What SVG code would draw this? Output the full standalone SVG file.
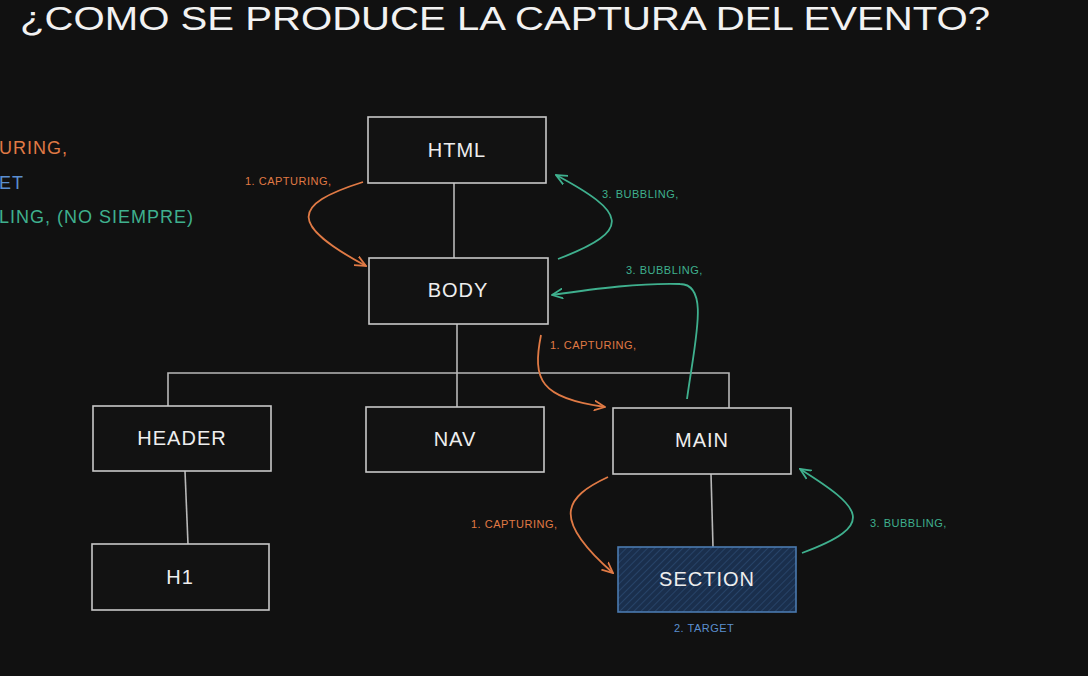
<svg xmlns="http://www.w3.org/2000/svg" width="1088" height="676" viewBox="0 0 1088 676">
<style>
.bg{fill:#111111}
.box{fill:#121212;stroke:#c8c8c8;stroke-width:1.6}
.lbl{font-family:"Liberation Sans",Arial,sans-serif;font-size:20px;fill:#eeeeee;text-anchor:middle;dominant-baseline:central;letter-spacing:1px}
.wire{stroke:#b8b8b8;stroke-width:1.6;fill:none}
.cap{stroke:#e07a45;stroke-width:1.8;fill:none}
.bub{stroke:#3fb08e;stroke-width:1.8;fill:none}
.tcap{font-family:"Liberation Sans",Arial,sans-serif;font-size:11px;fill:#e07a45;letter-spacing:0.5px}
.tbub{font-family:"Liberation Sans",Arial,sans-serif;font-size:11px;fill:#3fb08e;letter-spacing:0.5px}
.ttgt{font-family:"Liberation Sans",Arial,sans-serif;font-size:11px;fill:#5b8fcf;letter-spacing:0.5px}
.legend{font-family:"Liberation Sans",Arial,sans-serif;font-size:18px;letter-spacing:1px}
</style>
<defs>
<marker id="ac" viewBox="0 0 12 12" refX="11" refY="6" markerWidth="12" markerHeight="12" markerUnits="userSpaceOnUse" orient="auto">
<path d="M0,1 L11,6 L0,11" fill="none" stroke="#e07a45" stroke-width="1.8"/>
</marker>
<marker id="ab" viewBox="0 0 12 12" refX="11" refY="6" markerWidth="12" markerHeight="12" markerUnits="userSpaceOnUse" orient="auto">
<path d="M0,1 L11,6 L0,11" fill="none" stroke="#3fb08e" stroke-width="1.8"/>
</marker>
<pattern id="hatch" patternUnits="userSpaceOnUse" width="5" height="5" patternTransform="rotate(45)">
<rect width="5" height="5" fill="#1a2f4d"/>
<line x1="0" y1="0" x2="0" y2="5" stroke="#2c4c74" stroke-width="1.4"/>
</pattern>
</defs>
<rect class="bg" x="0" y="0" width="1088" height="676"/>
<text x="20" y="30" font-family="Liberation Sans,Arial,sans-serif" font-size="33" fill="#f2f2f2" textLength="970" lengthAdjust="spacingAndGlyphs">¿COMO SE PRODUCE LA CAPTURA DEL EVENTO?</text>
<g id="legend">
<text class="legend" x="-1" y="154" fill="#e07a45">URING,</text>
<text class="legend" x="-1" y="189" fill="#5b8fcf">ET</text>
<text class="legend" x="-1" y="223" fill="#3fb08e">LING, (NO SIEMPRE)</text>
</g>
<g id="connectors">
<path class="wire" d="M454,183 L454,258"/>
<path class="wire" d="M457,324 L457,407"/>
<path class="wire" d="M168,406 L168,373 L729,373 L729,408"/>
<path class="wire" d="M185,471 L188,544"/>
<path class="wire" d="M711,474 L713,547"/>
<path class="cap" marker-end="url(#ac)" d="M363,182 C 290,205 290,225 366,266"/>
<path class="bub" marker-end="url(#ab)" d="M558,259 C 635,230 625,212 556,175"/>
<path class="bub" marker-end="url(#ab)" d="M687,399 C 695,340 710,284 680,284 C 640,283 600,288 552,295"/>
<path class="cap" marker-end="url(#ac)" d="M541,335 C 532,380 540,398 605,407"/>
<path class="cap" marker-end="url(#ac)" d="M608,477 C 565,497 550,518 613,573"/>
<path class="bub" marker-end="url(#ab)" d="M802,553 C 878,525 862,508 800,469"/>
<text class="tcap" x="245" y="185">1. CAPTURING,</text>
<text class="tbub" x="602" y="198">3. BUBBLING,</text>
<text class="tbub" x="626" y="274">3. BUBBLING,</text>
<text class="tcap" x="550" y="349">1. CAPTURING,</text>
<text class="tcap" x="471" y="528">1. CAPTURING,</text>
<text class="tbub" x="870" y="527">3. BUBBLING,</text>
</g>
<g id="html"><rect class="box" x="368" y="117" width="178" height="66"/><text class="lbl" x="457" y="150">HTML</text></g>
<g id="body"><rect class="box" x="369" y="258" width="179" height="66"/><text class="lbl" x="458" y="290">BODY</text></g>
<g id="header"><rect class="box" x="93" y="406" width="178" height="65"/><text class="lbl" x="182" y="438">HEADER</text></g>
<g id="nav"><rect class="box" x="366" y="407" width="178" height="65"/><text class="lbl" x="455" y="439">NAV</text></g>
<g id="main"><rect class="box" x="613" y="408" width="178" height="66"/><text class="lbl" x="702" y="440">MAIN</text></g>
<g id="h1"><rect class="box" x="92" y="544" width="177" height="66"/><text class="lbl" x="180" y="577">H1</text></g>
<g id="section"><rect x="618" y="547" width="178" height="65" fill="url(#hatch)" stroke="#4a7ab0" stroke-width="1.6"/><text class="lbl" x="707" y="579">SECTION</text><text class="ttgt" x="674" y="632">2. TARGET</text></g>
</svg>
